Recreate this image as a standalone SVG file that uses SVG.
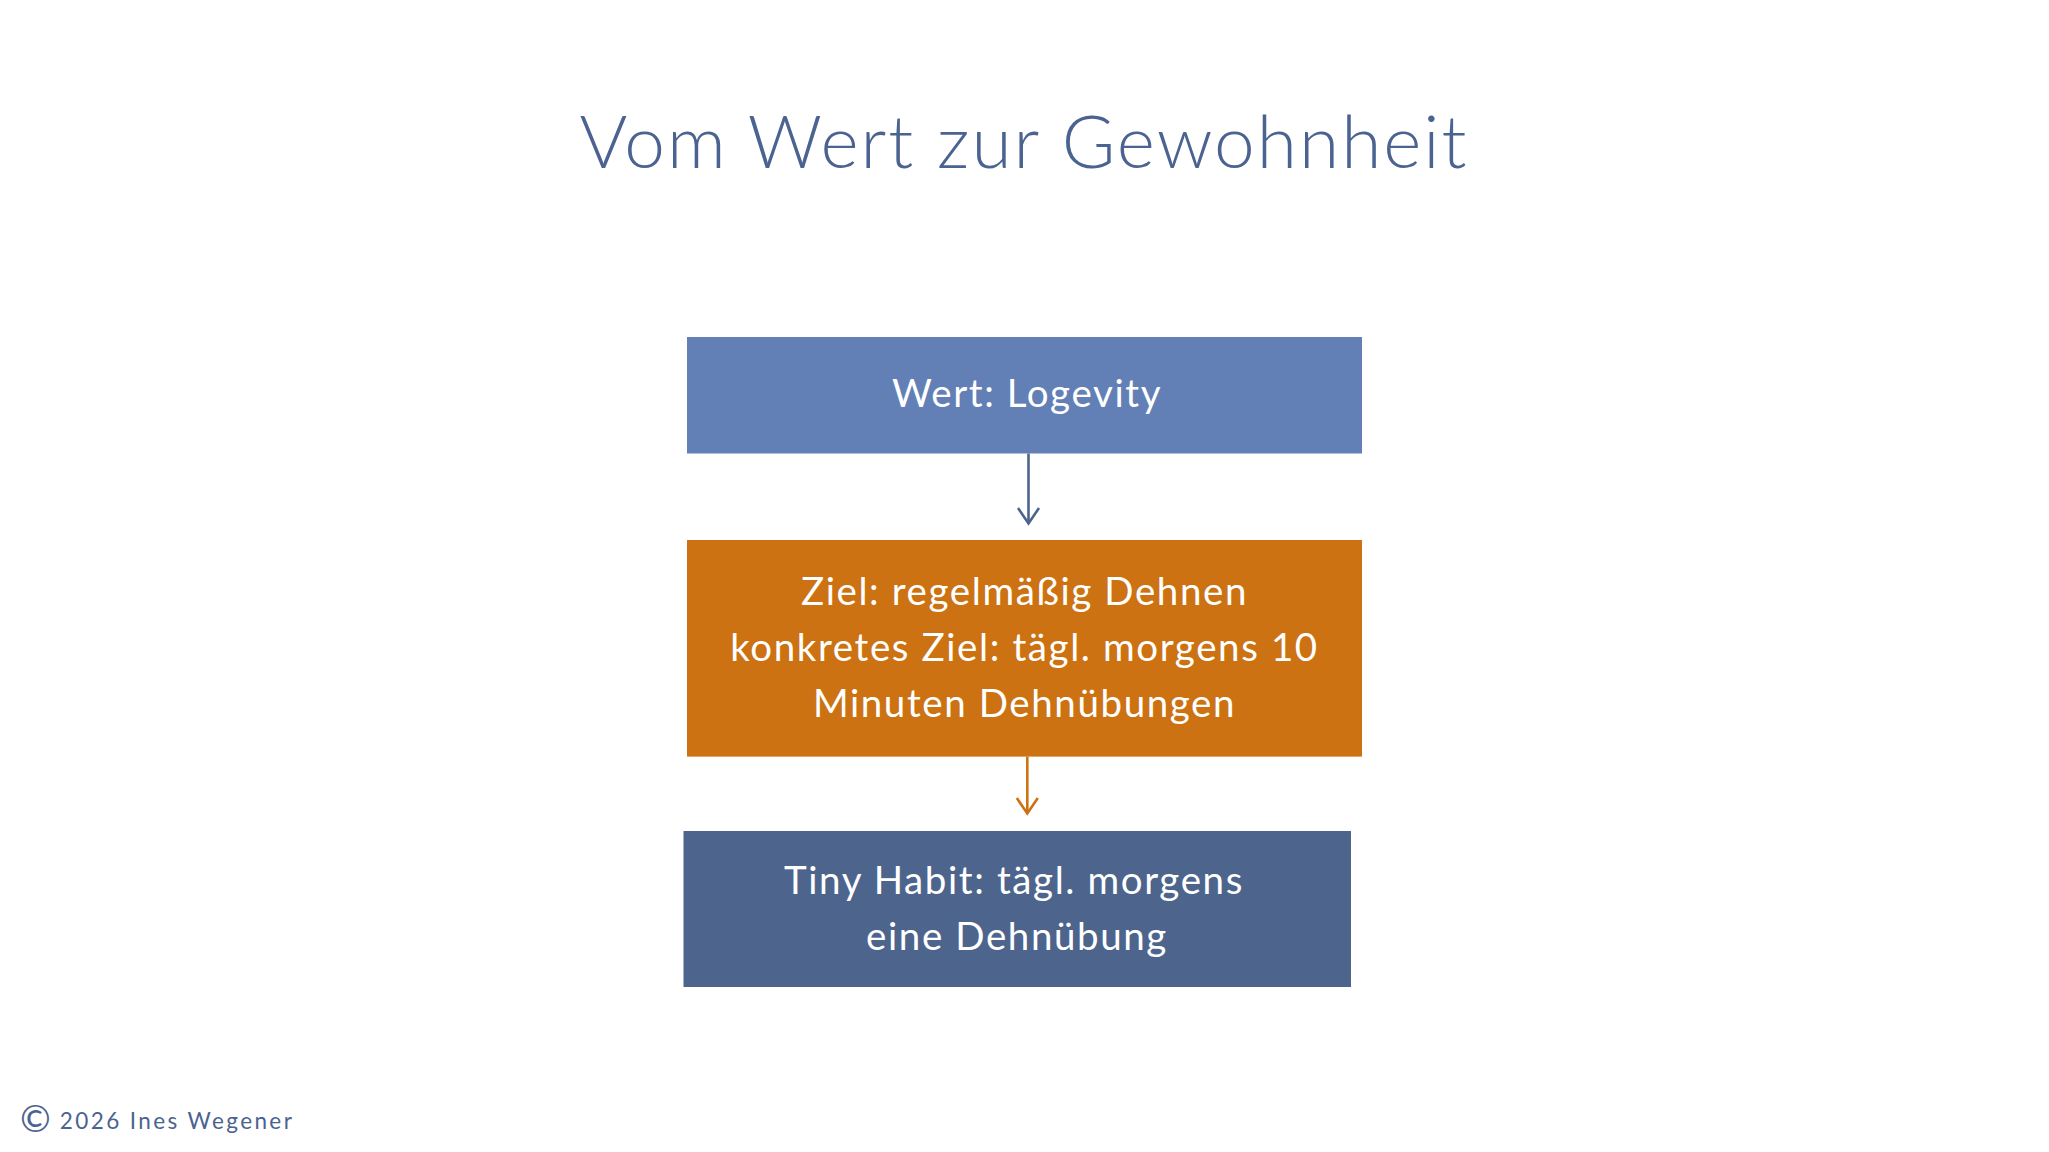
<svg xmlns="http://www.w3.org/2000/svg" width="2049" height="1152" viewBox="0 0 2049 1152">
  <defs>
    <style>
      .title { font-family: Lato, "Open Sans", sans-serif; font-weight: 300; font-size: 73px; letter-spacing: 2.0px; fill: #4b6390; }
      .lbl { font-family: Lato, "Open Sans", sans-serif; font-weight: 400; font-size: 38.5px; letter-spacing: 1.6px; fill: #ffffff; text-anchor: middle; }
      .foot { font-family: Lato, "Open Sans", sans-serif; font-weight: 400; font-size: 22.5px; letter-spacing: 2.4px; fill: #4b6390; }
      .conn { fill: none; stroke-width: 2.6; }
    </style>
  </defs>
  <rect x="0" y="0" width="2049" height="1152" fill="#ffffff"/>

  <g id="title">
    <text class="title" x="1024" y="168" text-anchor="middle">Vom Wert zur Gewohnheit</text>
  </g>

  <g id="connectors">
    <line class="conn" x1="1028.5" y1="453.5" x2="1028.5" y2="523" stroke="#4d648d"/>
    <path class="conn" d="M1018,508 L1028.5,523.5 L1039,508" stroke="#4d648d"/>
    <line class="conn" x1="1027.3" y1="756.6" x2="1027.3" y2="813" stroke="#cc7212"/>
    <path class="conn" d="M1016.8,798 L1027.3,813.5 L1037.8,798" stroke="#cc7212"/>
  </g>

  <g id="node-wert">
    <rect x="687" y="337" width="675" height="116.5" fill="#6280b6"/>
    <text class="lbl" x="1027" y="407">Wert: Logevity</text>
  </g>

  <g id="node-ziel">
    <rect x="687" y="540" width="675" height="216.6" fill="#cc7212"/>
    <text class="lbl" x="1024.5" y="605">Ziel: regelmäßig Dehnen</text>
    <text class="lbl" x="1024.5" y="661">konkretes Ziel: tägl. morgens 10</text>
    <text class="lbl" x="1024.5" y="717">Minuten Dehnübungen</text>
  </g>

  <g id="node-habit">
    <rect x="683.5" y="831" width="667.5" height="156" fill="#4d648d"/>
    <text class="lbl" x="1014" y="894">Tiny Habit: tägl. morgens</text>
    <text class="lbl" x="1017" y="950">eine Dehnübung</text>
  </g>

  <g id="footer">
    <text class="foot" x="20" y="1129"><tspan font-size="37" dy="3" letter-spacing="0">©</tspan><tspan dx="9" dy="-3">2026 Ines Wegener</tspan></text>
  </g>
</svg>
